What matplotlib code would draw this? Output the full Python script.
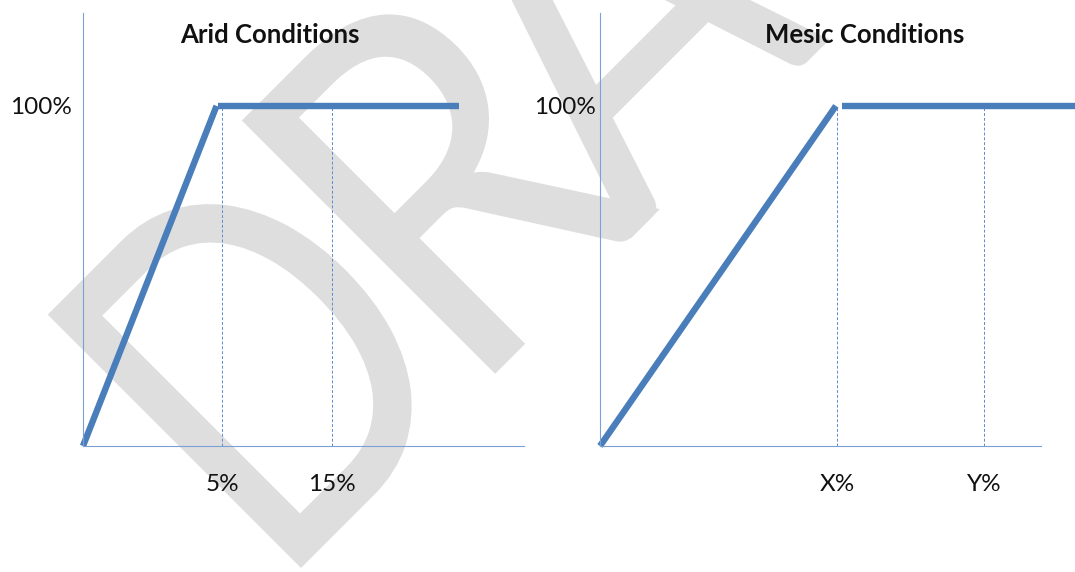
import matplotlib
matplotlib.use('Agg')
import matplotlib.pyplot as plt
from matplotlib import patheffects
from matplotlib.transforms import Affine2D
import numpy as np

plt.rcParams['font.family'] = ['Lato', 'DejaVu Sans']

W, H = 1075, 572

# x positions are schematic: the thresholds are not drawn to scale
arid_slope_x = [0, 0.96]
arid_slope_y = [0, 1.0]
arid_flat_x = [0.97, 2.70]
arid_flat_y = [1.0, 1.0]
arid_ticks = [1.0, 1.79]
arid_labels = ['5%', '15%']

mesic_slope_x = [0, 0.995]
mesic_slope_y = [0, 1.0]
mesic_flat_x = [1.02, 2.10]
mesic_flat_y = [1.0, 1.0]
mesic_ticks = [1.0, 1.62]
mesic_labels = ['X%', 'Y%']

y_ticks = [1.0]
y_labels = ['100%']

# watermark letters and their offsets (px) along the 45 degree baseline
mark_letters = ['D', 'R', 'A', 'F', 'T']
mark_offsets = [-30, 240, 470, 790, 1000]
mark_squeeze = [0.78, 0.88, 0.84, 0.84, 0.84]

LINE = '#4a7ebb'
AXIS = '#7aa0d4'
GUIDE = '#5b8bd0'


class Squeeze(patheffects.AbstractPathEffect):
    """Narrow the glyphs horizontally before they are rotated."""

    def __init__(self, sx):
        super().__init__()
        self.sx = sx

    def draw_path(self, renderer, gc, tpath, affine, rgbFace=None):
        renderer.draw_path(gc, tpath, Affine2D().scale(self.sx, 1.0) + affine, rgbFace)


def px_box(x0, x1, top, bottom):
    return [x0 / W, (H - bottom) / H, (x1 - x0) / W, (bottom - top) / H]


def draw_panel(ax, sx, sy, fx, fy, ticks, labels, xmax, title, title_x, ypad):
    ax.set_facecolor('none')
    ax.set_xlim(0, xmax)
    ax.set_ylim(0, 1.274)
    for side in ('top', 'right'):
        ax.spines[side].set_visible(False)
    for side in ('left', 'bottom'):
        ax.spines[side].set_color(AXIS)
        ax.spines[side].set_linewidth(0.8)

    for t in ticks:
        ax.plot([t, t], [0, 1.0], color=GUIDE, lw=0.7, ls=(0, (3, 2)))
    ax.plot(sx, sy, color=LINE, lw=4.6, solid_capstyle='butt', clip_on=False)
    ax.plot(fx, fy, color=LINE, lw=4.6, solid_capstyle='butt', clip_on=False)

    ax.set_xticks(ticks)
    ax.set_xticklabels(labels)
    ax.set_yticks(y_ticks)
    ax.set_yticklabels(y_labels)
    ax.tick_params(axis='x', length=0, pad=20, labelsize=17.5, labelcolor='#111111')
    ax.tick_params(axis='y', length=0, pad=ypad, labelsize=17.5, labelcolor='#111111')

    ax.text(title_x, 0.949, title, transform=ax.transAxes, ha='center',
            va='center', fontsize=18.5, fontweight='bold', color='#111111')


fig = plt.figure(figsize=(W / 100, H / 100), dpi=100)

# DRAFT watermark behind both panels, baseline running up at 45 degrees
x0, y0 = 297, 572
for ch, u, sq in zip(mark_letters, mark_offsets, mark_squeeze):
    px = x0 + u / np.sqrt(2)
    py = y0 - u / np.sqrt(2)
    fig.text(px / W, (H - py) / H, ch, rotation=45, rotation_mode='anchor',
             ha='left', va='baseline', fontsize=360, color='#dedede', zorder=-5,
             path_effects=[Squeeze(sq)])

ax1 = fig.add_axes(px_box(83, 524, 12.7, 446))
draw_panel(ax1, arid_slope_x, arid_slope_y, arid_flat_x, arid_flat_y,
           arid_ticks, arid_labels, 3.17, 'Arid Conditions', 0.424, 8)

ax2 = fig.add_axes(px_box(600, 1041, 12.7, 446))
draw_panel(ax2, mesic_slope_x, mesic_slope_y, mesic_flat_x, mesic_flat_y,
           mesic_ticks, mesic_labels, 1.86, 'Mesic Conditions', 0.601, 3)

fig.savefig('out.png', dpi=100)
